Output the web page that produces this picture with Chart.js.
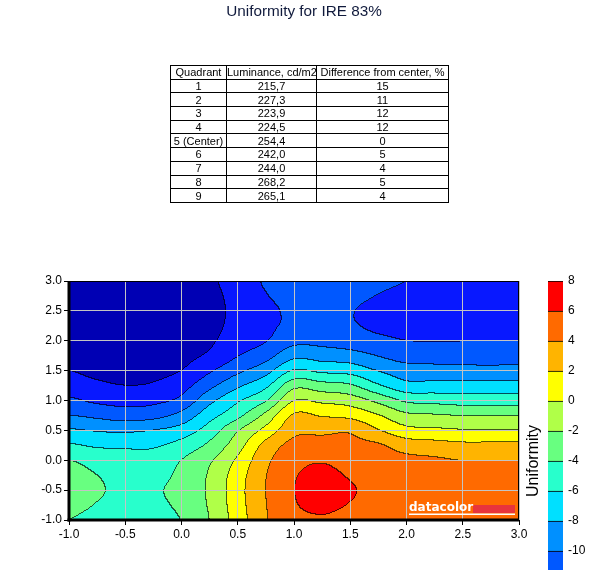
<!DOCTYPE html>
<html>
<head>
<meta charset="utf-8">
<title>Uniformity for IRE 83%</title>
<script src="https://cdn.jsdelivr.net/npm/chart.js@4.4.1/dist/chart.umd.min.js"></script>
<style>
  html, body { margin: 0; padding: 0; background: #fff; }
  body { width: 602px; height: 570px; overflow: hidden; position: relative; font-family: "Liberation Sans", Arial, sans-serif; }
  #main { position: absolute; left: 0; top: 0; }
  #bar { position: absolute; left: 520px; top: 0; }
  #title { position: absolute; left: 0; top: 2.3px; width: 608px; text-align: center; font-size: 15.3px; line-height: 18px; color: #101a3c; white-space: nowrap; }
  #tbl { position: absolute; left: 170px; top: 65px; border-collapse: collapse; table-layout: fixed; width: 278px; font-size: 11px; color: #000; }
  #tbl td { border: 1px solid #000; padding: 0; text-align: center; white-space: nowrap; line-height: 12px; }
  #tbl tr { height: 13.7px; }
</style>
</head>
<body>
<canvas id="main" width="602" height="570"></canvas>
<canvas id="bar" width="82" height="660"></canvas>
<div id="title"></div>
<table id="tbl">
  <colgroup><col style="width:56px"><col style="width:90px"><col style="width:132px"></colgroup>
  <tbody id="tblBody"></tbody>
</table>
<script>
const chartTitle = 'Uniformity for IRE 83%';

// table values
const tableHeader = ['Quadrant', 'Luminance, cd/m2', 'Difference from center, %'];
const quadrants = ['1', '2', '3', '4', '5 (Center)', '6', '7', '8', '9'];
const luminance = ['215,7', '227,3', '223,9', '224,5', '254,4', '242,0', '244,0', '268,2', '265,1'];
const difference = [15, 11, 12, 12, 0, 5, 4, 5, 4];

// contour grid, rows go from y = 3.0 down to y = -1.0
const xGrid = [-1, -0.75, -0.5, -0.25, 0, 0.25, 0.5, 0.75, 1, 1.25, 1.5, 1.75, 2, 2.25, 2.5, 2.75, 3];
const yGrid = [3, 2.75, 2.5, 2.25, 2, 1.75, 1.5, 1.25, 1, 0.75, 0.5, 0.25, 0, -0.25, -0.5, -0.75, -1];
const uniformity = [
  [-16.5, -16.8, -17.0, -16.8, -16.0, -14.4, -13.2, -11.8, -11.2, -11.0, -11.3, -11.6, -12.0, -12.4, -12.8, -12.9, -12.9],
  [-16.5, -16.8, -17.0, -16.8, -16.0, -14.6, -13.4, -12.1, -11.5, -11.2, -11.6, -12.05, -12.5, -12.8, -13.0, -13.1, -13.1],
  [-16.3, -16.6, -16.8, -16.6, -15.8, -14.7, -13.5, -12.4, -11.7, -11.3, -11.9, -12.4, -12.7, -12.9, -13.1, -13.2, -13.2],
  [-16.0, -16.3, -16.5, -16.3, -15.5, -14.6, -13.4, -12.4, -11.6, -11.2, -11.8, -12.3, -12.5, -12.7, -12.9, -13.0, -13.0],
  [-15.5, -15.9, -16.1, -15.9, -15.1, -14.3, -13.0, -12.1, -10.6, -10.6, -11.1, -11.6, -12.0, -12.05, -12.05, -12.05, -12.05],
  [-14.8, -15.3, -15.6, -15.3, -14.6, -13.7, -12.1, -10.8, -8.6, -8.9, -9.2, -10.1, -10.9, -10.9, -10.9, -10.9, -10.85],
  [-14.0, -14.6, -14.9, -14.6, -14.0, -12.3, -10.5, -8.8, -5.9, -6.5, -6.8, -8.1, -9.1, -9.3, -9.4, -9.45, -9.4],
  [-13.0, -13.6, -14.0, -13.8, -12.8, -10.6, -8.4, -6.5, -2.7, -3.3, -3.8, -5.8, -7.4, -7.35, -7.3, -7.3, -7.3],
  [-11.7, -12.4, -12.7, -12.5, -11.5, -8.6, -6.3, -4.2, -0.1, -0.5, -1.0, -2.6, -4.4, -4.7, -5.0, -5.0, -5.0],
  [-10.0, -10.5, -11.0, -10.7, -9.4, -6.8, -4.6, -1.5, 2.2, 1.8, 1.4, 0.1, -1.6, -1.85, -2.1, -2.1, -2.1],
  [-7.8, -8.2, -8.4, -8.0, -7.2, -5.1, -2.2, 0.6, 3.4, 3.5, 3.7, 2.1, 0.6, 0.35, 0.1, 0.1, 0.1],
  [-5.8, -6.3, -6.3, -6.3, -5.3, -3.6, -0.9, 2.6, 4.6, 4.8, 4.5, 4.2, 3.0, 2.7, 2.4, 2.4, 2.4],
  [-4.0, -4.8, -5.5, -5.2, -4.0, -2.3, 0.3, 3.5, 5.3, 5.8, 5.1, 4.9, 4.5, 4.25, 3.95, 3.95, 3.95],
  [-3.3, -4.0, -4.9, -4.6, -3.6, -1.8, 1.0, 3.9, 5.8, 6.6, 5.8, 5.2, 5.0, 4.85, 4.7, 4.7, 4.7],
  [-3.1, -3.7, -4.6, -4.25, -3.4, -1.7, 1.2, 4.0, 5.95, 6.9, 6.2, 5.4, 5.2, 5.1, 5.0, 5.0, 5.0],
  [-3.4, -4.1, -4.8, -4.4, -3.6, -1.8, 1.1, 3.9, 5.8, 6.5, 5.9, 5.3, 5.1, 5.05, 5.0, 5.0, 5.0],
  [-4.0, -4.6, -5.2, -4.7, -3.95, -2.0, 0.9, 3.8, 5.4, 5.8, 5.3, 5.1, 5.0, 4.95, 4.9, 4.9, 4.9]
];

// contour levels and colours (one colour per band)
const levels = [-16, -14, -12, -10, -8, -6, -4, -2, 0, 2, 4, 6, 8];
const levelColors = ['#0000b4', '#0818ff', '#0058ff', '#0090ff', '#00e0ff', '#28ffcc',
                     '#68ff80', '#b0ff48', '#ffff00', '#ffb400', '#ff6a00', '#ff0000'];

const FONT = '"Liberation Sans", Arial, sans-serif';

document.getElementById('title').textContent = chartTitle;

// build table
const tbody = document.getElementById('tblBody');
let rowsHtml = '<tr>' + tableHeader.map(h => `<td>${h}</td>`).join('') + '</tr>';
quadrants.forEach((q, i) => {
  rowsHtml += `<tr><td>${q}</td><td>${luminance[i]}</td><td>${difference[i]}</td></tr>`;
});
tbody.innerHTML = rowsHtml;

// helpers
function hexToRgb(hex) {
  const n = parseInt(hex.slice(1), 16);
  return [(n >> 16) & 255, (n >> 8) & 255, n & 255];
}
const bandRgb = levelColors.map(hexToRgb);

function bandOf(v) {
  let b = 0;
  for (let k = 1; k < levels.length - 1; k++) {
    if (v >= levels[k]) b = k;
  }
  return b;
}

// smooth (catmull-rom) sample of the grid
function cr(p0, p1, p2, p3, t) {
  return 0.5 * (2 * p1 + (-p0 + p2) * t + (2 * p0 - 5 * p1 + 4 * p2 - p3) * t * t + (-p0 + 3 * p1 - 3 * p2 + p3) * t * t * t);
}
function cell(j, i) {
  j = Math.min(Math.max(j, 0), yGrid.length - 1);
  i = Math.min(Math.max(i, 0), xGrid.length - 1);
  return uniformity[j][i];
}
function sampleAt(xv, yv) {
  let fx = (xv - xGrid[0]) / (xGrid[1] - xGrid[0]);
  let fy = (yGrid[0] - yv) / (yGrid[0] - yGrid[1]);
  fx = Math.min(Math.max(fx, 0), xGrid.length - 1);
  fy = Math.min(Math.max(fy, 0), yGrid.length - 1);
  const i = Math.min(Math.floor(fx), xGrid.length - 2);
  const j = Math.min(Math.floor(fy), yGrid.length - 2);
  const tx = fx - i, ty = fy - j;
  const rows = [];
  for (let r = -1; r <= 2; r++) {
    rows.push(cr(cell(j + r, i - 1), cell(j + r, i), cell(j + r, i + 1), cell(j + r, i + 2), tx));
  }
  return cr(rows[0], rows[1], rows[2], rows[3], ty);
}

// filled contours, drawn under the grid
const contourFill = {
  id: 'contourFill',
  beforeDraw(chart) {
    const { left, top, right, bottom } = chart.chartArea;
    const xs = chart.scales.x, ys = chart.scales.y;
    const w = Math.round(right - left), h = Math.round(bottom - top);
    const off = document.createElement('canvas');
    off.width = w; off.height = h;
    const octx = off.getContext('2d');
    const img = octx.createImageData(w, h);
    const bands = new Int8Array(w * h);
    for (let py = 0; py < h; py++) {
      const yv = ys.getValueForPixel(top + py + 0.5);
      for (let px = 0; px < w; px++) {
        const xv = xs.getValueForPixel(left + px + 0.5);
        bands[py * w + px] = bandOf(sampleAt(xv, yv));
      }
    }
    for (let py = 0; py < h; py++) {
      for (let px = 0; px < w; px++) {
        const k = py * w + px;
        const b = bands[k];
        let edge = false;
        if (px < w - 1 && bands[k + 1] !== b) edge = true;
        if (py < h - 1 && bands[k + w] !== b) edge = true;
        const c = bandRgb[b];
        const f = edge ? 0.35 : 1;
        img.data[k * 4] = c[0] * f;
        img.data[k * 4 + 1] = c[1] * f;
        img.data[k * 4 + 2] = c[2] * f;
        img.data[k * 4 + 3] = 255;
      }
    }
    octx.putImageData(img, 0, 0);
    chart.ctx.drawImage(off, left, top, right - left, bottom - top);
  },
  afterDraw(chart) {
    const { ctx } = chart;
    const { left, top, right, bottom } = chart.chartArea;
    ctx.save();
    // frame
    ctx.fillStyle = '#000';
    ctx.fillRect(left, top, right - left, 1);
    ctx.fillRect(right - 1, top, 1, bottom - top);
    ctx.fillRect(left - 1.5, top, 3, bottom - top + 1.5);
    ctx.fillRect(left - 1.5, bottom - 1.5, right - left + 1.5, 3);
    // datacolor mark
    const lx = right - 110, by = bottom - 9;
    ctx.fillStyle = '#e8343c';
    ctx.fillRect(lx + 64, by - 6, 42, 8);
    ctx.fillStyle = '#fff';
    ctx.font = 'bold 12px "DejaVu Sans", sans-serif';
    ctx.textBaseline = 'alphabetic';
    ctx.textAlign = 'left';
    ctx.fillText('datacolor', lx, by);
    ctx.fillRect(lx, by + 2.5, 106, 1.5);
    ctx.restore();
  }
};

const gridPoints = [];
yGrid.forEach((y, j) => xGrid.forEach((x, i) => gridPoints.push({ x: x, y: y, v: uniformity[j][i] })));

new Chart(document.getElementById('main'), {
  type: 'scatter',
  data: {
    datasets: [{ label: 'Uniformity', data: gridPoints, pointRadius: 0, pointHoverRadius: 0 }]
  },
  options: {
    responsive: false,
    animation: false,
    layout: { padding: { left: 0, right: 83, top: 281, bottom: 0 } },
    plugins: {
      legend: { display: false },
      tooltip: { enabled: false },
      title: { display: false }
    },
    scales: {
      x: {
        type: 'linear', min: -1, max: 3,
        ticks: { stepSize: 0.5, color: '#000', font: { family: FONT, size: 12 }, padding: 2, maxRotation: 0, autoSkip: false,
                 callback: v => v.toFixed(1) },
        grid: { color: '#c4c4c4', lineWidth: 1, tickColor: '#000', tickLength: 5 },
        border: { display: false },
        afterFit(scale) { scale.height = 50; }
      },
      y: {
        type: 'linear', min: -1, max: 3,
        ticks: { stepSize: 0.5, color: '#000', font: { family: FONT, size: 12 }, padding: 2,
                 callback: v => v.toFixed(1) },
        grid: { color: '#c4c4c4', lineWidth: 1, tickColor: '#000', tickLength: 5 },
        border: { display: false },
        afterFit(scale) { scale.width = 69; }
      }
    }
  },
  plugins: [contourFill]
});

// colour bar
new Chart(document.getElementById('bar'), {
  type: 'bar',
  data: {
    labels: [''],
    datasets: levelColors.map((c, i) => ({
      data: [[levels[i], levels[i + 1]]],
      backgroundColor: c,
      borderColor: '#000',
      borderWidth: { top: 1, bottom: 0, left: 0, right: 0 },
      borderSkipped: false,
      barPercentage: 1,
      categoryPercentage: 1,
      grouped: false
    }))
  },
  options: {
    responsive: false,
    animation: false,
    layout: { padding: { left: 0, right: 0, top: 281, bottom: 19 } },
    plugins: { legend: { display: false }, tooltip: { enabled: false } },
    scales: {
      x: { display: false },
      y: {
        position: 'right', min: -16, max: 8,
        ticks: { stepSize: 2, color: '#000', font: { family: FONT, size: 12 }, padding: 5 },
        grid: { display: false, drawTicks: false },
        border: { display: false },
        afterFit(scale) { scale.width = 39; }
      },
      y2: {
        position: 'left', min: -16, max: 8,
        ticks: { display: false },
        grid: { display: false, drawTicks: false },
        border: { display: false },
        title: { display: true, text: 'Uniformity', color: '#000', font: { family: FONT, size: 16, lineHeight: 1.2 }, padding: { top: 3.9, bottom: 0 } },
        afterFit(scale) { scale.width = 28; }
      }
    }
  }
});
</script>
</body>
</html>
